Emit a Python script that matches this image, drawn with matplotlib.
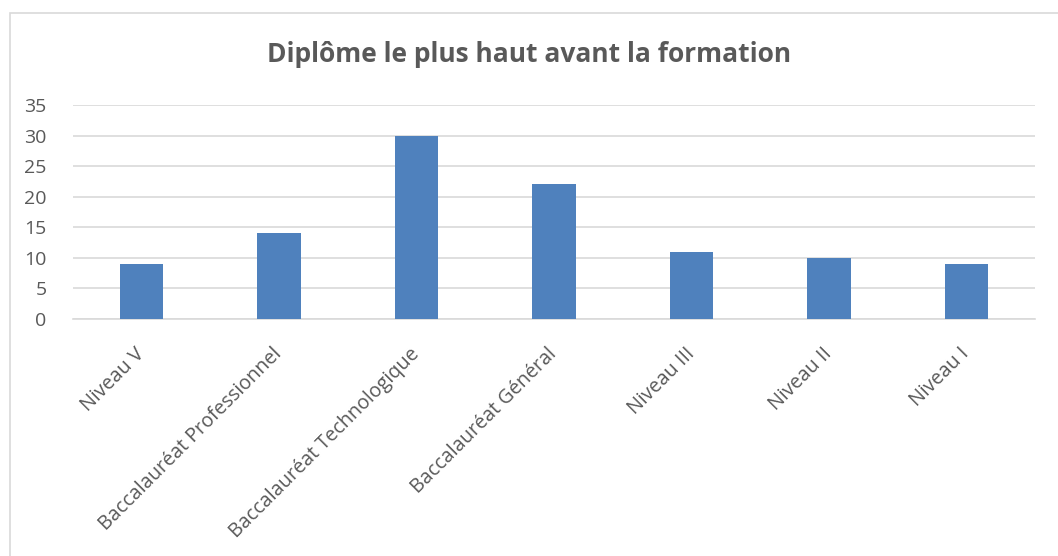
import matplotlib.pyplot as plt
from matplotlib.patches import Rectangle

categories = [
    "Niveau V",
    "Baccalauréat Professionnel",
    "Baccalauréat Technologique",
    "Baccalauréat Général",
    "Niveau III",
    "Niveau II",
    "Niveau I",
]
values = [9, 14, 30, 22, 11, 10, 9]
y_ticks = [0, 5, 10, 15, 20, 25, 30, 35]

plt.rcParams["font.family"] = ["Open Sans", "DejaVu Sans"]
text_color = "#595959"

fig = plt.figure(figsize=(10.58, 5.56), dpi=100)

# chart frame like an Excel chart area
fig.patches.append(Rectangle((10 / 1058, -0.01), 1.0, (556 - 13) / 556 + 0.01,
                             transform=fig.transFigure, fill=False,
                             edgecolor="#d9d9d9", linewidth=1.2))

ax = fig.add_axes([73 / 1058, (556 - 319) / 556, 962 / 1058, 214 / 556])
x = list(range(len(categories)))
ax.bar(x, values, width=0.315, color="#4f81bd", zorder=3)

ax.set_xlim(-0.5, len(categories) - 0.5)
ax.set_ylim(0, 35)
ax.set_yticks(y_ticks)
ax.yaxis.grid(True, color="#d9d9d9", linewidth=1.2, zorder=0)
ax.set_xticks(x)
ax.set_xticklabels(categories, rotation=45, ha="right", va="center",
                   rotation_mode="anchor", fontsize=14.2, color=text_color)
ax.tick_params(axis="y", labelsize=14, labelcolor=text_color, length=0, pad=19)
ax.tick_params(axis="x", length=0, pad=23)
for spine in ["top", "right", "left"]:
    ax.spines[spine].set_visible(False)
ax.spines["bottom"].set_color("#d9d9d9")
ax.spines["bottom"].set_linewidth(1.2)

fig.text(0.5, (556 - 54) / 556, "Diplôme le plus haut avant la formation",
         ha="center", va="center", fontsize=19, fontweight="bold",
         color=text_color)

fig.savefig("out.png", dpi=100)
